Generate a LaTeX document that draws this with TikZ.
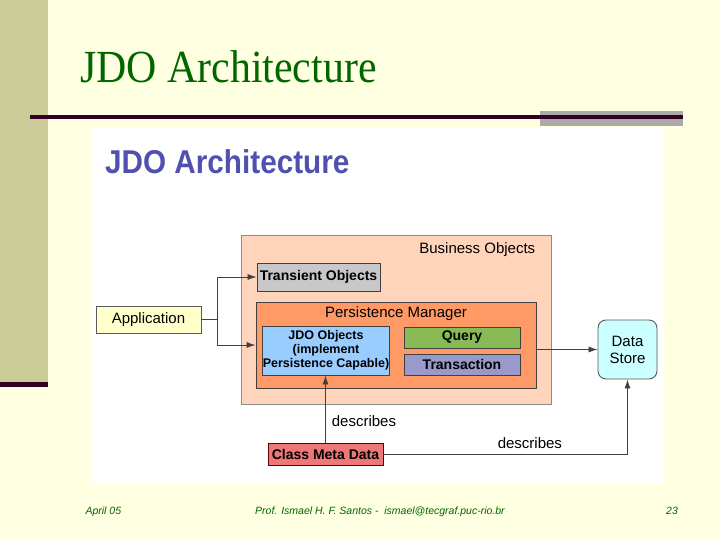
\documentclass[tikz,border=0pt]{standalone}
\usepackage{fontspec}
\setmainfont{Liberation Serif}
\setsansfont{Liberation Sans}
\usetikzlibrary{arrows.meta}

\definecolor{slidebg}{HTML}{FFFFE1}
\definecolor{sidebar}{HTML}{CCCC99}
\definecolor{rule}{HTML}{330022}
\definecolor{rulegray}{HTML}{AAAAAA}
\definecolor{titlegreen}{HTML}{006600}
\definecolor{panelblue}{HTML}{5050B0}
\definecolor{bofill}{HTML}{FFD4BA}
\definecolor{pmfill}{HTML}{FF9966}
\definecolor{transfill}{HTML}{C8C8C8}
\definecolor{jdofill}{HTML}{99CCFF}
\definecolor{queryfill}{HTML}{88BB55}
\definecolor{txfill}{HTML}{9999CC}
\definecolor{appfill}{HTML}{FFFFCC}
\definecolor{dsfill}{HTML}{CCFFFF}
\definecolor{cmdfill}{HTML}{EE7777}

\tikzset{
  lbl/.style={font=\sffamily\fontsize{15}{17}\selectfont, inner sep=0pt},
  part/.style={draw=black!75, line width=0.9pt, fill=#1, inner sep=0pt,
    font=\sffamily\bfseries\fontsize{14}{16}\selectfont},
  conn/.style={draw=black!75, line width=0.8pt},
  arr/.style={conn, -{Latex[length=9pt,width=6pt]}},
  foot/.style={font=\sffamily\itshape\fontsize{10.5}{12}\selectfont, text=titlegreen}
}

\begin{document}
\begin{tikzpicture}[x=1pt,y=-1pt]
  \useasboundingbox (0,0) rectangle (720,540);
  \fill[slidebg] (0,0) rectangle (720,540);

  % slide frame
  \fill[sidebar] (0,0) rectangle (48,383);
  \fill[rule] (0,382) rectangle (48,387);
  \fill[rulegray] (540,111) rectangle (683,126);
  \fill[rule] (30,115.5) rectangle (683,119);
  \node[anchor=base west, inner sep=0pt, text=titlegreen,
    font=\fontsize{46}{50}\selectfont, xscale=0.91] (title) at (80,83) {JDO Architecture};

  % white panel
  \fill[white] (92,127) rectangle (664,483);
  \node[anchor=base west, inner sep=0pt, text=panelblue,
    font=\sffamily\bfseries\fontsize{33}{36}\selectfont, xscale=0.9] (ptitle) at (105,174) {JDO Architecture};

  % boxes
  \node[draw=black!45, line width=0.9pt, fill=bofill, minimum width=310pt, minimum height=169pt] (bo) at (396,319.5) {};
  \node[lbl, anchor=north east] (bolbl) at ([shift={(-16,8)}]bo.north east) {Business Objects};
  \node[part=transfill, minimum width=123pt, minimum height=28pt] (trans) at (318.5,277) {Transient Objects};
  \node[draw=black!75, line width=0.9pt, fill=pmfill, minimum width=280pt, minimum height=86pt] (pm) at (396,345) {};
  \node[lbl, anchor=base] (pmlbl) at ([shift={(0,16)}]pm.north) {Persistence Manager};
  \node[part=jdofill, minimum width=124pt, minimum height=49pt, align=center,
    font=\sffamily\bfseries\fontsize{12.5}{14}\selectfont] (jdo) at (326,350.5) {JDO Objects\\(implement\\Persistence Capable)};
  \node[part=queryfill, minimum width=116pt, minimum height=21pt] (query) at (462,337.5) {Query};
  \node[part=txfill, minimum width=116pt, minimum height=21pt] (tx) at (462,364.5) {Transaction};

  \node[lbl, draw=black!65, line width=0.9pt, fill=appfill, minimum width=105pt, minimum height=27pt] (app) at (148.5,319.5) {Application};
  \node[lbl, draw=black!65, line width=0.9pt, fill=dsfill, rounded corners=8pt, align=center,
    minimum width=59pt, minimum height=59pt] (ds) at (627.5,349.5) {Data\\Store};
  \node[part=cmdfill, draw=red!40!black, minimum width=115pt, minimum height=22pt] (cmd) at (325.5,454) {Class Meta Data};

  % connectors
  \draw[conn] (app.east) -- ++(16,0) coordinate (split);
  \draw[arr] (split) |- (trans.west);
  \draw[arr] (split) |- (pm.west);
  \draw[arr] (pm.east |- ds.west) -- (ds.west);
  \draw[arr] (cmd.north) -- node[lbl, right=6pt, pos=0.32] {describes} (cmd.north |- jdo.south);
  \draw[arr] (cmd.east) -| node[lbl, above=5pt, pos=0.3] {describes} (ds.south);

  % footer
  \node[foot, anchor=base west] (date) at (82,514) {April 05};
  \node[foot, anchor=base] (author) at (380,514) {Prof. Ismael H. F. Santos -~ ismael@tecgraf.puc-rio.br};
  \node[foot, anchor=base] (page) at (672,514) {23};
\end{tikzpicture}
\end{document}
